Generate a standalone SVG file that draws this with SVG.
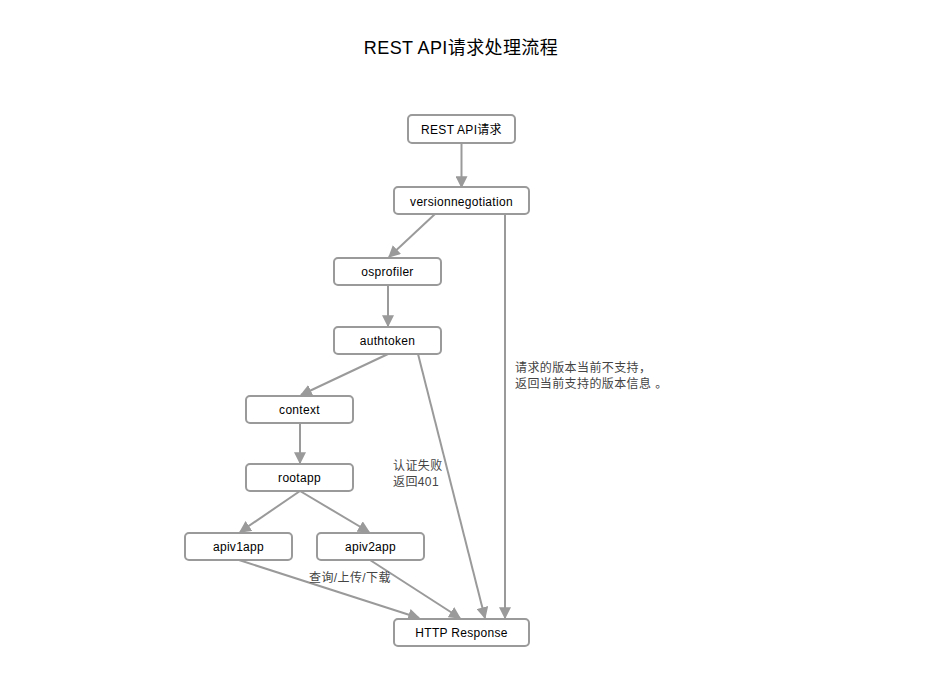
<svg xmlns="http://www.w3.org/2000/svg" width="927" height="687" viewBox="0 0 927 687">
<style>
.node rect{fill:#fff;stroke:#9a9a9a;stroke-width:2}
.node text{font-family:"Liberation Sans","Noto Sans CJK SC",sans-serif;font-size:12px;fill:#000;text-anchor:middle;letter-spacing:0.3px}
.edge{stroke:#9a9a9a;stroke-width:2;fill:none;marker-end:url(#arr)}
.lbl{font-family:"Liberation Sans","Noto Sans CJK SC",sans-serif;font-size:12px;fill:#444;letter-spacing:0.4px}
</style>
<defs>
<marker id="arr" viewBox="0 0 10 10" refX="9" refY="5" markerWidth="6" markerHeight="6" orient="auto" markerUnits="strokeWidth">
<path d="M0,0 L10,5 L0,10 z" fill="#9a9a9a"/>
</marker>
</defs>
<rect width="927" height="687" fill="#fff"/>
<text x="461" y="54" font-family="'Liberation Sans','Noto Sans CJK SC',sans-serif" font-size="18" text-anchor="middle" fill="#000" letter-spacing="0.4">REST API请求处理流程</text>
<g id="connectors">
<line class="edge" x1="461.5" y1="143" x2="461.5" y2="187"/>
<line class="edge" x1="435" y1="214" x2="389" y2="257"/>
<line class="edge" x1="505" y1="214" x2="505" y2="618"/>
<line class="edge" x1="388" y1="285" x2="388" y2="326"/>
<line class="edge" x1="388" y1="354" x2="301" y2="395"/>
<line class="edge" x1="418" y1="354" x2="485" y2="618"/>
<line class="edge" x1="300" y1="423" x2="300" y2="463"/>
<line class="edge" x1="300" y1="491" x2="240" y2="532"/>
<line class="edge" x1="300" y1="491" x2="369" y2="532"/>
<line class="edge" x1="239" y1="560" x2="419" y2="618"/>
<line class="edge" x1="370" y1="560" x2="460" y2="618"/>
<text class="lbl" x="515" y="372">请求的版本当前不支持，</text>
<text class="lbl" x="515" y="388">返回当前支持的版本信息 。</text>
<text class="lbl" x="393" y="470">认证失败</text>
<text class="lbl" x="393" y="486">返回401</text>
<text class="lbl" x="309" y="582">查询/上传/下载</text>
</g>
<g id="rest" class="node"><rect x="408" y="115" width="107" height="28" rx="4"/><text x="461.5" y="134">REST API请求</text></g>
<g id="versionnegotiation" class="node"><rect x="394" y="187" width="135" height="27" rx="4"/><text x="461.5" y="206">versionnegotiation</text></g>
<g id="osprofiler" class="node"><rect x="334" y="258" width="107" height="27" rx="4"/><text x="387.5" y="276">osprofiler</text></g>
<g id="authtoken" class="node"><rect x="334" y="327" width="107" height="27" rx="4"/><text x="387.5" y="345">authtoken</text></g>
<g id="context" class="node"><rect x="246" y="396" width="107" height="27" rx="4"/><text x="299.5" y="414">context</text></g>
<g id="rootapp" class="node"><rect x="246" y="464" width="107" height="27" rx="4"/><text x="299.5" y="482">rootapp</text></g>
<g id="apiv1app" class="node"><rect x="185" y="533" width="107" height="27" rx="4"/><text x="238.5" y="551">apiv1app</text></g>
<g id="apiv2app" class="node"><rect x="317" y="533" width="107" height="27" rx="4"/><text x="370.5" y="551">apiv2app</text></g>
<g id="http" class="node"><rect x="394" y="619" width="135" height="27" rx="4"/><text x="461.5" y="637">HTTP Response</text></g>
</svg>
